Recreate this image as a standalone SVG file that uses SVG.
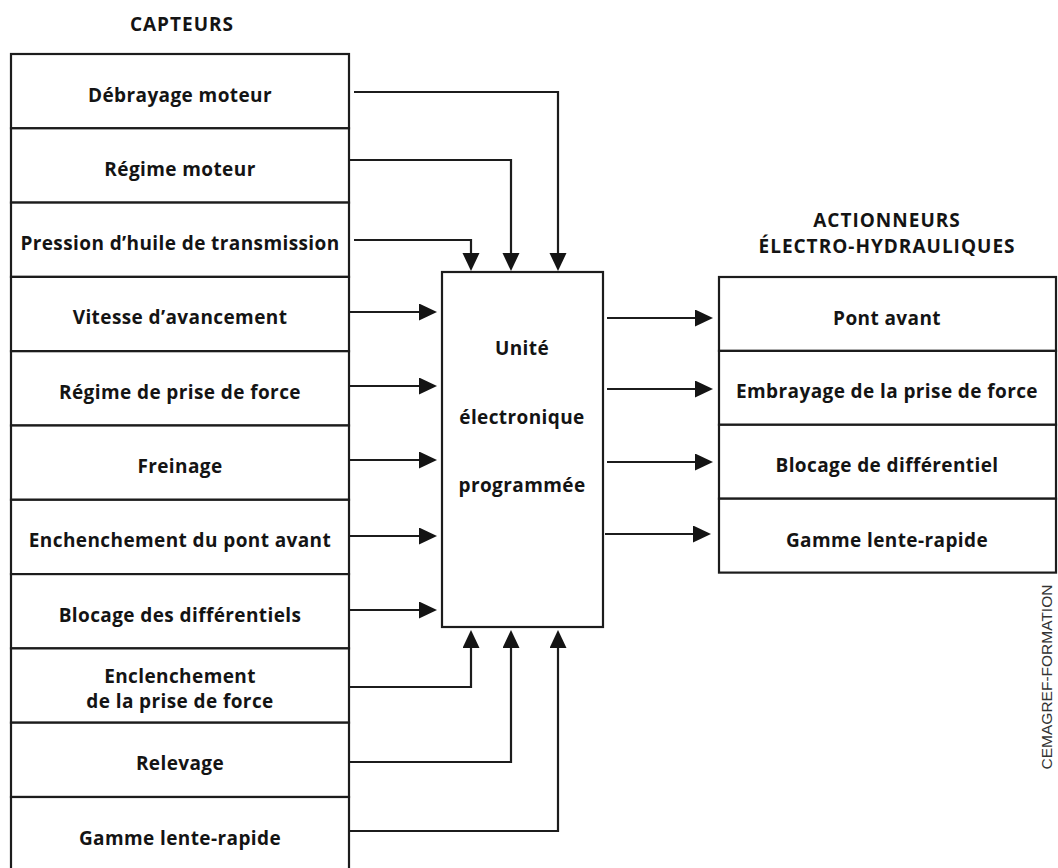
<svg xmlns="http://www.w3.org/2000/svg" width="1058" height="868" viewBox="0 0 1058 868">
  <style>
    .box { fill: #ffffff; stroke: #1c1c1c; stroke-width: 2.2; }
    .lbl { font-family: "Open Sans", "Liberation Sans", sans-serif; font-weight: 700; font-size: 19px; letter-spacing: 0.4px; fill: #141414; text-anchor: middle; }
    .hdr { font-family: "Open Sans", "Liberation Sans", sans-serif; font-weight: 700; font-size: 19px; letter-spacing: 1px; fill: #141414; text-anchor: middle; }
    .wire { fill: none; stroke: #1c1c1c; stroke-width: 2.2; marker-end: url(#head); }
    .credit { font-family: "Liberation Sans", Arial, sans-serif; font-size: 15.5px; fill: #333333; text-anchor: middle; }
  </style>
  <defs>
    <marker id="head" markerUnits="userSpaceOnUse" markerWidth="19" markerHeight="18" refX="9" refY="8.5" orient="auto">
      <path d="M0,0 L18,8.5 L0,17 z" fill="#141414"/>
    </marker>
  </defs>
  <rect width="1058" height="868" fill="#ffffff"/>

  <!-- column headings -->
  <text class="hdr" x="182" y="31">CAPTEURS</text>
  <text class="hdr" x="887" y="227">ACTIONNEURS</text>
  <text class="hdr" x="887" y="253">ÉLECTRO-HYDRAULIQUES</text>

  <!-- sensors -->
  <g id="s-debrayage"><rect class="box" x="11" y="54" width="338" height="74.3"/><text class="lbl" x="180" y="102">Débrayage moteur</text></g>
  <g id="s-regime-moteur"><rect class="box" x="11" y="128.3" width="338" height="74.3"/><text class="lbl" x="180" y="176">Régime moteur</text></g>
  <g id="s-pression"><rect class="box" x="11" y="202.6" width="338" height="74.3"/><text class="lbl" x="180" y="250">Pression d’huile de transmission</text></g>
  <g id="s-vitesse"><rect class="box" x="11" y="276.9" width="338" height="74.3"/><text class="lbl" x="180" y="324">Vitesse d’avancement</text></g>
  <g id="s-regime-pdf"><rect class="box" x="11" y="351.2" width="338" height="74.3"/><text class="lbl" x="180" y="399">Régime de prise de force</text></g>
  <g id="s-freinage"><rect class="box" x="11" y="425.5" width="338" height="74.3"/><text class="lbl" x="180" y="473">Freinage</text></g>
  <g id="s-pont-avant"><rect class="box" x="11" y="499.8" width="338" height="74.3"/><text class="lbl" x="180" y="547">Enchenchement du pont avant</text></g>
  <g id="s-blocage"><rect class="box" x="11" y="574.1" width="338" height="74.3"/><text class="lbl" x="180" y="622">Blocage des différentiels</text></g>
  <g id="s-enclenchement-pdf"><rect class="box" x="11" y="648.4" width="338" height="74.3"/><text class="lbl" x="180" y="683">Enclenchement</text><text class="lbl" x="180" y="708">de la prise de force</text></g>
  <g id="s-relevage"><rect class="box" x="11" y="722.7" width="338" height="74.3"/><text class="lbl" x="180" y="770">Relevage</text></g>
  <g id="s-gamme"><rect class="box" x="11" y="797" width="338" height="74.3"/><text class="lbl" x="180" y="845">Gamme lente-rapide</text></g>

  <!-- control unit -->
  <g id="unit">
    <rect class="box" x="442" y="272" width="161" height="355"/>
    <text class="lbl" x="522" y="355">Unité</text>
    <text class="lbl" x="522" y="424">électronique</text>
    <text class="lbl" x="522" y="492">programmée</text>
  </g>

  <!-- actuators -->
  <g id="a-pont-avant"><rect class="box" x="719" y="277" width="337" height="73.9"/><text class="lbl" x="887" y="325">Pont avant</text></g>
  <g id="a-embrayage-pdf"><rect class="box" x="719" y="350.9" width="337" height="73.9"/><text class="lbl" x="887" y="398">Embrayage de la prise de force</text></g>
  <g id="a-blocage"><rect class="box" x="719" y="424.8" width="337" height="73.9"/><text class="lbl" x="887" y="472">Blocage de différentiel</text></g>
  <g id="a-gamme"><rect class="box" x="719" y="498.7" width="337" height="73.9"/><text class="lbl" x="887" y="547">Gamme lente-rapide</text></g>

  <!-- signal lines -->
  <g id="connectors">
    <path class="wire" d="M354,92 H558 V262"/>
    <path class="wire" d="M350,160 H511 V262"/>
    <path class="wire" d="M354,240 H471 V262"/>
    <path class="wire" d="M350,312 H428"/>
    <path class="wire" d="M350,386 H428"/>
    <path class="wire" d="M350,460 H428"/>
    <path class="wire" d="M350,536 H428"/>
    <path class="wire" d="M350,610 H428"/>
    <path class="wire" d="M350,687 H471 V639"/>
    <path class="wire" d="M350,762 H511 V639"/>
    <path class="wire" d="M350,831 H558 V639"/>
    <path class="wire" d="M607,318 H704"/>
    <path class="wire" d="M607,389 H704"/>
    <path class="wire" d="M607,462 H704"/>
    <path class="wire" d="M605,534 H702"/>
  </g>

  <text class="credit" transform="translate(1052,677) rotate(-90)">CEMAGREF-FORMATION</text>
</svg>
